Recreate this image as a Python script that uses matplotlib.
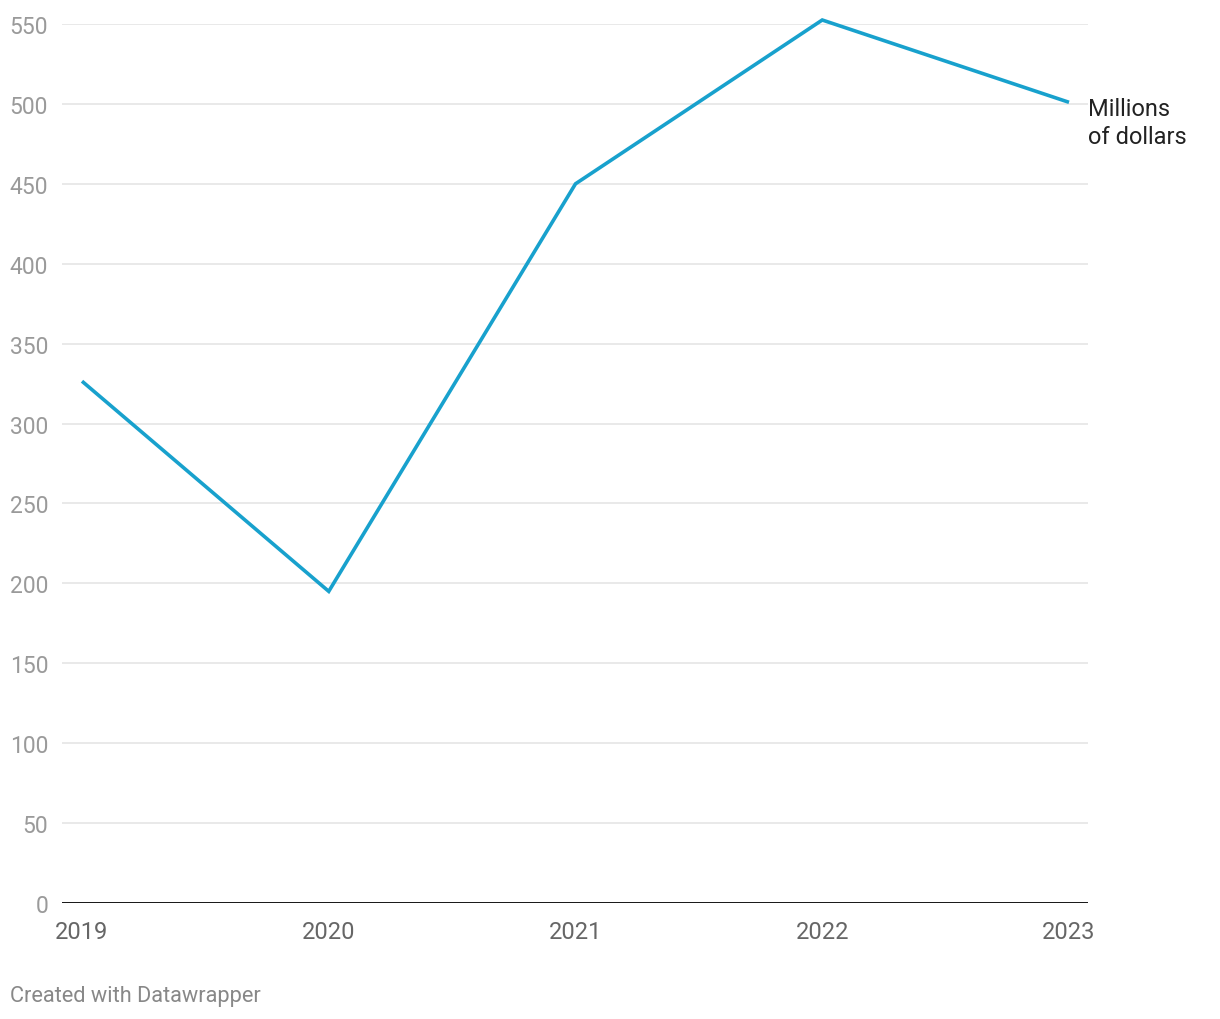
import matplotlib
matplotlib.use("Agg")
import matplotlib.pyplot as plt

years = [2019, 2020, 2021, 2022, 2023]
values = [326.5, 195, 450, 552.5, 501]
yticks = [0, 50, 100, 150, 200, 250, 300, 350, 400, 450, 500, 550]
series_label = "Millions\nof dollars"
credit = "Created with Datawrapper"

plt.rcParams['font.family'] = ['Roboto', 'DejaVu Sans']

fig = plt.figure(figsize=(12.2, 10.2), dpi=100)
W, H = 1220, 1020
ax = fig.add_axes([62 / W, 1 - 904 / H, (1088 - 62) / W, (904 - 25) / H])

ax.set_ylim(0, 550)
ax.set_xlim(2019 - 20 / 246.75, 2023 + 19 / 246.75)

for t in yticks[1:]:
    ax.axhline(t, color='#e3e3e3', lw=1.1, zorder=1)
ax.axhline(0, color='#000000', lw=2.0, zorder=3)

ax.plot(years, values, color='#18a1cd', lw=2.6, zorder=4, clip_on=False,
        solid_joinstyle='miter', solid_capstyle='butt')

for s in ax.spines.values():
    s.set_visible(False)
ax.set_xticks(years)
ax.set_xticklabels([str(y) for y in years])
ax.set_yticks(yticks)
ax.tick_params(axis='both', length=0)
ax.tick_params(axis='y', pad=10, labelsize=16.5, labelcolor='#9a9a9a')
ax.tick_params(axis='x', pad=12, labelsize=17, labelcolor='#666666')

ax.annotate(series_label, xy=(years[-1], values[-1]), xycoords='data',
            xytext=(19, 5), textcoords='offset pixels',
            ha='left', va='top', fontsize=17, color='#222222',
            linespacing=1.25, annotation_clip=False)

fig.text(10 / W, 1 - 997 / H, credit, ha='left', va='center',
         fontsize=15.7, color='#888888')

fig.savefig('out.png', dpi=100, facecolor='white')
